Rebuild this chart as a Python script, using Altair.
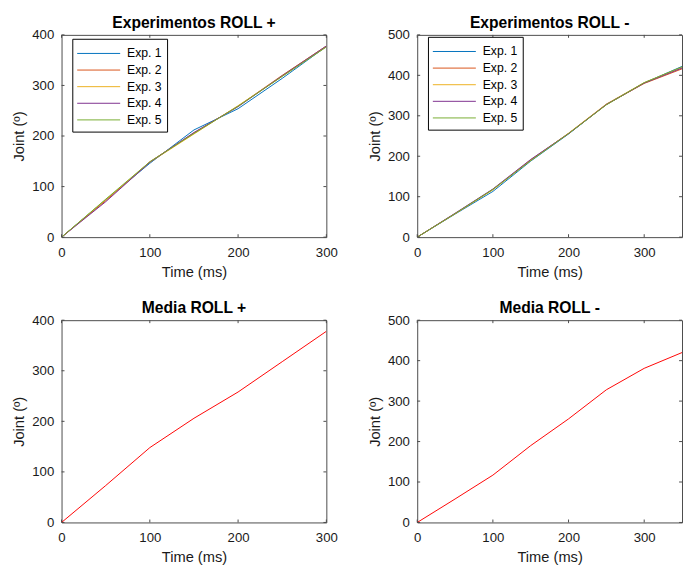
import altair as alt
import pandas as pd

# ---------------- data ----------------
exp_labels = ["Exp. 1", "Exp. 2", "Exp. 3", "Exp. 4", "Exp. 5"]
exp_colors = ["#0072BD", "#D95319", "#EDB120", "#7E2F8E", "#77AC30"]

time_pos = [0, 50, 100, 150, 200, 250, 300]
pos_exp1 = [0, 74, 146, 212, 254, 314, 377]
pos_exp2 = [0, 72, 149, 206, 259, 320, 378]
pos_exp3 = [0, 74, 148, 204, 260, 318, 377]
pos_exp4 = [0, 70, 148, 207, 258, 319, 378]
pos_exp5 = [0, 75, 149, 205, 259, 318, 376]
mean_pos = [0, 73, 148, 206, 258, 318, 378]

time_neg = [0, 50, 100, 150, 200, 250, 300, 350]
neg_exp1 = [0, 57, 113, 188, 255, 328, 381, 422]
neg_exp2 = [0, 58, 118, 191, 256, 328, 380, 416]
neg_exp3 = [0, 58, 117, 190, 257, 329, 382, 419]
neg_exp4 = [0, 59, 119, 192, 256, 328, 381, 418]
neg_exp5 = [0, 58, 118, 189, 256, 327, 382, 421]
mean_neg = [0, 58, 117, 190, 256, 328, 381, 420]

x_ticks = [0, 100, 200, 300]
y_ticks_pos = [0, 100, 200, 300, 400]
y_ticks_neg = [0, 100, 200, 300, 400, 500]
x_domain_pos = [0, 300]
x_domain_neg = [0, 350]
y_domain_pos = [0, 400]
y_domain_neg = [0, 500]

# ---------------- tables ----------------
def long_table(times, series):
    rows = []
    for lab, vals in zip(exp_labels, series):
        for t, v in zip(times, vals):
            rows.append({"t": t, "v": v, "exp": lab})
    return pd.DataFrame(rows)

df_pos = long_table(time_pos, [pos_exp1, pos_exp2, pos_exp3, pos_exp4, pos_exp5])
df_neg = long_table(time_neg, [neg_exp1, neg_exp2, neg_exp3, neg_exp4, neg_exp5])
df_mpos = pd.DataFrame({"t": time_pos, "v": mean_pos})
df_mneg = pd.DataFrame({"t": time_neg, "v": mean_neg})

FONT = "Liberation Sans"
W, H = 271, 207
TL = 3  # inward tick length
BOX = "#4a4a4a"


def panel(df, title, xdom, ydom, yticks, legend_y=None):
    xs = alt.Scale(domain=xdom, nice=False, zero=False)
    ys = alt.Scale(domain=ydom, nice=False, zero=False)
    x_axis = alt.Axis(values=x_ticks, title="Time (ms)", labelFlush=False)
    y_axis = alt.Axis(values=yticks, title="Joint (º)")
    x_enc = alt.X("t:Q", scale=xs, axis=x_axis)
    y_enc = alt.Y("v:Q", scale=ys, axis=y_axis)
    if legend_y is not None:
        color = alt.Color(
            "exp:N",
            scale=alt.Scale(domain=exp_labels, range=exp_colors),
            legend=alt.Legend(
                title=None, orient="none", legendX=11, legendY=legend_y,
                symbolType="M-2.316,0H2.316", symbolSize=361, symbolStrokeWidth=1,
                symbolOffset=12,
                labelFont=FONT, labelFontSize=12.5, labelColor="#000000",
                labelOffset=19, strokeColor="#000000", fillColor="#ffffff",
                padding=5, rowPadding=0, cornerRadius=0,
            ),
        )
        line = alt.Chart(df).mark_line(strokeWidth=1, clip=True).encode(
            x=x_enc, y=y_enc, color=color)
    else:
        line = alt.Chart(df).mark_line(strokeWidth=1, clip=True, color="#FF0000").encode(
            x=x_enc, y=y_enc)

    xt = pd.DataFrame({"t": x_ticks})
    yt = pd.DataFrame({"v": yticks})
    tick_style = dict(color=BOX, strokeWidth=1)
    xb = alt.Chart(xt).mark_rule(**tick_style).encode(
        x=x_enc, y=alt.value(H), y2=alt.value(H - TL))
    xtop = alt.Chart(xt).mark_rule(**tick_style).encode(
        x=x_enc, y=alt.value(0), y2=alt.value(TL))
    yl = alt.Chart(yt).mark_rule(**tick_style).encode(
        y=y_enc, x=alt.value(0), x2=alt.value(TL))
    yr = alt.Chart(yt).mark_rule(**tick_style).encode(
        y=y_enc, x=alt.value(W), x2=alt.value(W - TL))

    return alt.layer(line, xb, xtop, yl, yr).properties(
        width=W, height=H,
        title=alt.Title(title, font=FONT, fontSize=16, fontWeight="bold",
                        color="#000000", offset=-3),
    )


top = alt.hconcat(
    panel(df_pos, "Experimentos ROLL +", x_domain_pos, y_domain_pos, y_ticks_pos, legend_y=4),
    panel(df_neg, "Experimentos ROLL -", x_domain_neg, y_domain_neg, y_ticks_neg, legend_y=2),
    spacing=29,
).resolve_scale(color="independent")

bottom = alt.hconcat(
    panel(df_mpos, "Media ROLL +", x_domain_pos, y_domain_pos, y_ticks_pos),
    panel(df_mneg, "Media ROLL -", x_domain_neg, y_domain_neg, y_ticks_neg),
    spacing=29,
)

chart = alt.vconcat(top, bottom, spacing=20).properties(
    padding={"left": 11, "top": 8, "right": 0, "bottom": 0},
    background="#ffffff",
).configure_view(
    stroke=BOX, strokeWidth=1,
).configure_axis(
    grid=False, ticks=False, domain=False,
    labelFont=FONT, labelFontSize=13.5, labelColor="#1a1a1a", labelPadding=8,
    titleFont=FONT, titleFontSize=15, titleFontWeight="normal", titleColor="#1a1a1a",
    titlePadding=5,
).configure_axisX(labelPadding=8.5, titlePadding=6)

chart.save("out.html", embed_options={"renderer": "svg", "actions": False})
